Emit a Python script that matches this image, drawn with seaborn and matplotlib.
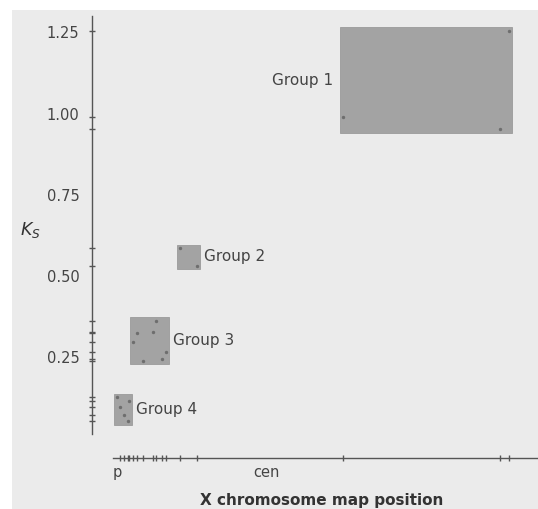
import matplotlib
matplotlib.use("Agg")
import matplotlib.pyplot as plt
from matplotlib.patches import Rectangle
import seaborn as sns
import pandas as pd

# gene positions on the X chromosome (Mb from p end) and Ks per group
group_names = ["Group 1", "Group 2", "Group 3", "Group 4"]
pos_g1 = [85.5, 144.0, 147.3]
ks_g1 = [0.988, 0.951, 1.255]
pos_g2 = [24.9, 31.2]
ks_g2 = [0.585, 0.532]
pos_g3 = [16.0, 8.9, 14.9, 7.4, 19.7, 11.2, 18.2]
ks_g3 = [0.363, 0.326, 0.329, 0.298, 0.265, 0.240, 0.246]
pos_g4 = [1.5, 2.6, 4.1, 5.6, 6.0]
ks_g4 = [0.128, 0.098, 0.072, 0.053, 0.115]

ytick_vals = [0.25, 0.50, 0.75, 1.00, 1.25]
ytick_labels = ["0.25", "0.50", "0.75", "1.00", "1.25"]
xtick_vals = [1.5, 57]
xtick_labels = ["p", "cen"]

rows = []
for name, xs, ys in zip(group_names, [pos_g1, pos_g2, pos_g3, pos_g4],
                        [ks_g1, ks_g2, ks_g3, ks_g4]):
    for x, y in zip(xs, ys):
        rows.append({"group": name, "pos": x, "ks": y})
df = pd.DataFrame(rows)

sns.set_style("ticks")
plt.rcParams['font.family'] = ['DejaVu Sans']

fig = plt.figure(figsize=(5.38, 5.09), dpi=100)
fig.patch.set_facecolor("white")
# scanned-paper background
fig.add_artist(Rectangle((12 / 538, 0), 1, 1 - 10 / 509, transform=fig.transFigure,
                         facecolor="#ebebeb", edgecolor="none", zorder=-10))

ax = fig.add_axes([92 / 538, 51 / 509, 446 / 538, 442 / 509])
ax.set_facecolor("none")

# group boxes = bounding box of the genes, slightly padded
padx, pady = 1.0, 0.01
label_side = {"Group 1": "left", "Group 2": "right", "Group 3": "right", "Group 4": "right"}
for name, g in df.groupby("group"):
    x0, x1 = g["pos"].min() - padx, g["pos"].max() + padx
    y0, y1 = g["ks"].min() - pady, g["ks"].max() + pady
    ax.add_patch(Rectangle((x0, y0), x1 - x0, y1 - y0, facecolor="#a3a3a3",
                           edgecolor="#9a9a9a", lw=0.6, zorder=1))
    ym = (y0 + y1) / 2
    if label_side[name] == "left":
        ax.text(x0 - 2.5, ym, name, ha="right", va="center",
                fontsize=11, color="#444444")
    else:
        ax.text(x1 + 1.5, ym, name, ha="left", va="center",
                fontsize=11, color="#444444")

sns.scatterplot(data=df, x="pos", y="ks", color="#6e6e6e", s=6, linewidth=0,
                ax=ax, zorder=2, legend=False)

ax.set_xlim(-7.8, 158)
ax.set_ylim(-0.06, 1.30)

sns.despine(ax=ax)
ax.spines["left"].set_bounds(0.015, 1.30)
ax.spines["bottom"].set_bounds(0, 158)
for s in ["left", "bottom"]:
    ax.spines[s].set_color("#555555")
    ax.spines[s].set_linewidth(1.0)

ax.set_yticks(ytick_vals)
ax.set_yticklabels(ytick_labels)
ax.set_xticks(xtick_vals)
ax.set_xticklabels(xtick_labels)
# gene positions marked on the axes
ax.set_yticks(df["ks"], minor=True)
ax.set_xticks(df["pos"], minor=True)
ax.tick_params(which="major", length=0, labelsize=10.5, labelcolor="#444444")
ax.tick_params(axis="y", which="major", pad=9)
ax.tick_params(axis="x", which="major", pad=5)
ax.tick_params(which="minor", direction="inout", length=5, width=1.0, color="#555555")

ax.set_xlabel("X chromosome map position", fontsize=11, fontweight="bold",
              color="#333333", labelpad=0)
ax.xaxis.set_label_coords((322 - 92) / 446, -35 / 442)
ax.set_ylabel(r"$K_S$", fontsize=12.5, color="#333333", rotation=0, labelpad=0)
ax.yaxis.set_label_coords((30 - 92) / 446, (458 - 240) / 442)

fig.savefig("out.png", dpi=100, facecolor=fig.get_facecolor())
